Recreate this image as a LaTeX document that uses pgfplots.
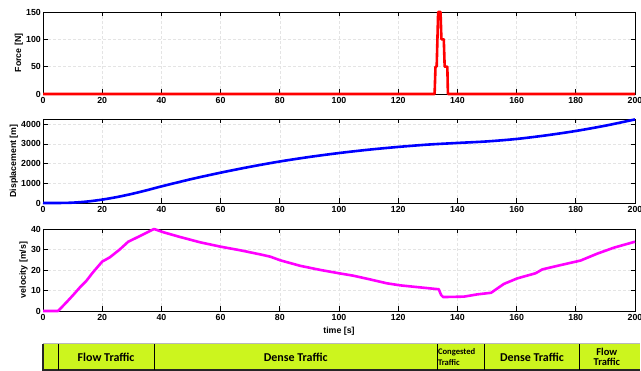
\documentclass[border=0pt]{standalone}
\usepackage{pgfplots}
\pgfplotsset{compat=1.18}
\usepackage{fontspec}
\setmainfont{Liberation Sans}
\newfontfamily\calibri{Carlito}
\definecolor{band}{RGB}{204,245,30}
\definecolor{gridc}{RGB}{228,228,228}
\definecolor{mag}{RGB}{255,0,255}
\definecolor{myred}{RGB}{255,0,0}
\definecolor{myblue}{RGB}{0,0,255}

\pgfplotsset{
  mystyle/.style={
    scale only axis, width=592pt,
    xmin=0, xmax=200, xtick={0,20,...,200},
    xtick pos=both, ytick pos=both,
    xticklabel pos=lower, yticklabel pos=left,
    tick align=inside,
    major tick length=4.5pt,
    tick style={black, line width=0.7pt},
    axis line style={black, line width=0.8pt},
    grid=major,
    major grid style={gridc, dash pattern=on 2.5pt off 2.5pt, line width=0.5pt},
    tick label style={font=\fontsize{8.8}{10}\selectfont\bfseries},
    label style={font=\fontsize{8.8}{10}\selectfont\bfseries},
    /pgf/number format/assume math mode=true,
    /pgf/number format/set thousands separator={},
    scaled y ticks=false,
    clip=false,
    anchor=south west,
    xticklabel style={inner sep=1pt, yshift=-2.5pt},
    yticklabel style={inner sep=2pt},
    ylabel style={inner sep=1pt},
  }
}

\begin{document}
\begin{tikzpicture}[x=1pt,y=1pt]
\begin{scope}
\clip (0,0) rectangle (641,371);

% Force
\begin{axis}[mystyle, height=82pt, at={(43pt,277pt)},
  ymin=0, ymax=150, ytick={0,50,100,150},
  ylabel={Force [N]}]
\addplot[myred, line width=2.6pt, line join=round] coordinates {
(0,0)(132.3,0)(132.6,50)(133.0,50)(133.5,150)(134.3,150)(134.6,100)
(135.4,100)(135.7,50)(136.6,50)(136.8,0)(200,0)};
\end{axis}

% Displacement
\begin{axis}[mystyle, height=84pt, at={(43pt,168pt)},
  ymin=0, ymax=4270, ytick={0,1000,2000,3000,4000},
  ylabel={Displacement [m]}]
\addplot[myblue, line width=2.6pt, smooth] coordinates {
(0,0)(5,0)(10,17)(15,75)(20,172)(25,302)(30,462)(35,646)(40,843)
(50,1211)(60,1541)(70,1841)(80,2110)(90,2340)(100,2539)(110,2709)
(120,2850)(130,2968)(140,3052)(150,3130)(160,3255)(170,3438)
(180,3661)(190,3931)(200,4248)};
\end{axis}

% Velocity
\begin{axis}[mystyle, height=82pt, at={(43pt,60pt)},
  ymin=0, ymax=40, ytick={0,10,20,30,40},
  ylabel={velocity [m/s]}, xlabel={time [s]},
  xlabel style={inner sep=0pt, yshift=-5pt}]
\addplot[mag, line width=2.6pt, line join=round] coordinates {
(0,0)(5.1,0)(7.9,4.2)(10.2,7.8)(12.4,11.4)(14.7,14.8)(16.9,18.9)
(20,24.1)(22.6,26.2)(26,30.1)(28.8,33.8)(32.8,36.6)(37.5,40)
(40.7,38.4)(46.3,36.1)(53.1,33.5)(59.9,31.4)(66.7,29.6)(73.4,27.6)
(76.8,26.5)(80.2,24.7)(87,22)(93.8,20)(100,18.4)(104.9,17.2)
(110.5,15.4)(116.2,13.5)(120.7,12.5)(127.5,11.5)(133.7,10.6)
(134.5,7.8)(135.2,6.8)(142.2,7.0)(146.7,8.1)(151.4,8.9)(155.7,13.2)
(160.2,15.9)(166.4,18.4)(168.7,20.3)(174.9,22.4)(181.6,24.6)
(187.3,28)(192.9,30.9)(200,33.8)};
\end{axis}

% Traffic band
\begin{axis}[hide axis, scale only axis, width=597pt, height=26pt,
  at={(43pt,1pt)}, anchor=south west,
  xmin=0, xmax=201.7, ymin=0, ymax=1, clip=false]
\fill[band] (axis cs:0,0) rectangle (axis cs:201.7,1);
\draw[gray!55, line width=1pt] (axis cs:0,1) -- (axis cs:201.7,1);
\draw[black!85, line width=1.3pt] (axis cs:0,1) -- (axis cs:0,0) -- (axis cs:201.7,0);
\draw[black, line width=0.9pt] (axis cs:5.07,0) -- (axis cs:5.07,1);
\draw[black, line width=0.9pt] (axis cs:37.6,0) -- (axis cs:37.6,1);
\draw[black, line width=0.9pt] (axis cs:133.2,0) -- (axis cs:133.2,1);
\draw[black, line width=0.9pt] (axis cs:149.1,0) -- (axis cs:149.1,1);
\draw[black, line width=0.9pt] (axis cs:181.4,0) -- (axis cs:181.4,1);
\node[font=\calibri\bfseries\fontsize{12}{13}\selectfont] at (axis cs:21.3,0.5) {Flow Traffic};
\node[font=\calibri\bfseries\fontsize{12}{13}\selectfont] at (axis cs:85.4,0.5) {Dense Traffic};
\node[font=\calibri\bfseries\fontsize{12}{13}\selectfont] at (axis cs:165.2,0.5) {Dense Traffic};
\node[font=\calibri\bfseries\fontsize{8.6}{10.5}\selectfont, align=left, anchor=west, inner sep=0.6pt] at (axis cs:133.2,0.5) {Congested\\Traffic};
\node[font=\calibri\bfseries\fontsize{10.5}{10.5}\selectfont, align=center] at (axis cs:190.5,0.5) {Flow\\Traffic};
\end{axis}
\end{scope}
\pgfresetboundingbox
\path[use as bounding box] (0,0) rectangle (641,371);
\end{tikzpicture}
\end{document}
